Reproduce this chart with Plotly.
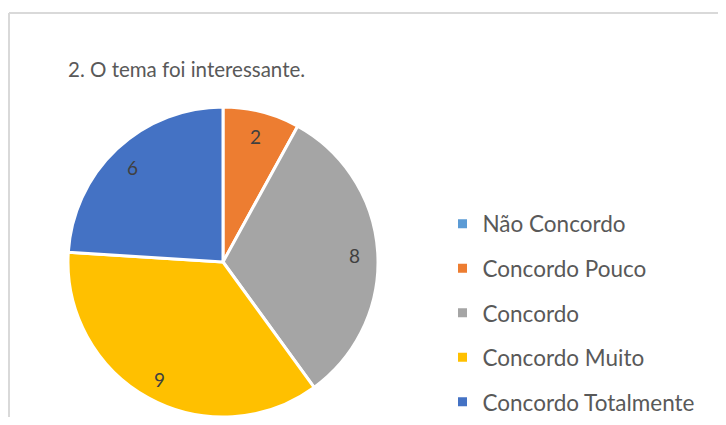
import math

import plotly.graph_objects as go

# Chart data
categories = ['Não Concordo', 'Concordo Pouco', 'Concordo', 'Concordo Muito', 'Concordo Totalmente']
values = [0, 2, 8, 9, 6]
colors = ['#5B9BD5', '#ED7D31', '#A5A5A5', '#FFC000', '#4472C4']
title_text = "2. O tema foi interessante."

# figure is the window minus the 8px page margin
W, H = 710, 409
# pie geometry in figure pixels
cx, cy, R = 215, 254, 155

fig = go.Figure()

fig.add_trace(go.Pie(
    labels=categories,
    values=values,
    sort=False,
    direction='clockwise',
    rotation=0,
    marker=dict(colors=colors, line=dict(color='white', width=3)),
    textinfo='none',
    hoverinfo='label+value',
    showlegend=False,
    domain=dict(x=[(cx - R) / W, (cx + R) / W], y=[max(0, 1 - (cy + R) / H), 1 - (cy - R) / H]),
))

# legend entries as dummy traces so the row spacing can be controlled
for i, (cat, col) in enumerate(zip(categories, colors)):
    fig.add_trace(go.Scatter(
        x=[None], y=[None], mode='markers', name=cat,
        legendgroup=str(i),
        marker=dict(symbol='square', size=9, color=col),
    ))

# value labels placed from the slice angles
total = sum(values)
cum = 0
for v in values:
    if v > 0:
        mid = (cum + v / 2) / total * 2 * math.pi
        px = cx + 0.85 * R * math.sin(mid)
        py = cy + 2 - 0.85 * R * math.cos(mid)
        fig.add_annotation(
            text=str(v), x=px / W, y=1 - py / H, xref='paper', yref='paper',
            xanchor='center', yanchor='middle', showarrow=False,
            font=dict(family='Lato', size=19, color='#404040'),
        )
    cum += v

# outer chart border (left and top edges, the rest is cut off)
border = dict(color='#D9D9D9', width=2)
fig.add_shape(type='line', xref='paper', yref='paper',
              x0=1 / W, x1=1 / W, y0=0, y1=1 - 5 / H, line=border)
fig.add_shape(type='line', xref='paper', yref='paper',
              x0=1 / W, x1=1, y0=1 - 5 / H, y1=1 - 5 / H, line=border)

fig.update_layout(
    width=W, height=H,
    margin=dict(l=0, r=0, t=0, b=0, autoexpand=False),
    paper_bgcolor='white',
    plot_bgcolor='white',
    title=dict(text=title_text, x=60 / W, xanchor='left', y=1 - 62 / H, yanchor='middle',
               font=dict(family='Lato', size=20.5, color='#595959')),
    xaxis=dict(visible=False),
    yaxis=dict(visible=False),
    legend=dict(x=434.5 / W, xanchor='left', y=1 - 194.5 / H, yanchor='top',
                traceorder='grouped', tracegroupgap=12.3,
                font=dict(family='Lato', size=22.5, color='#595959'),
                bgcolor='rgba(0,0,0,0)'),
)

fig.write_html("out.html")
